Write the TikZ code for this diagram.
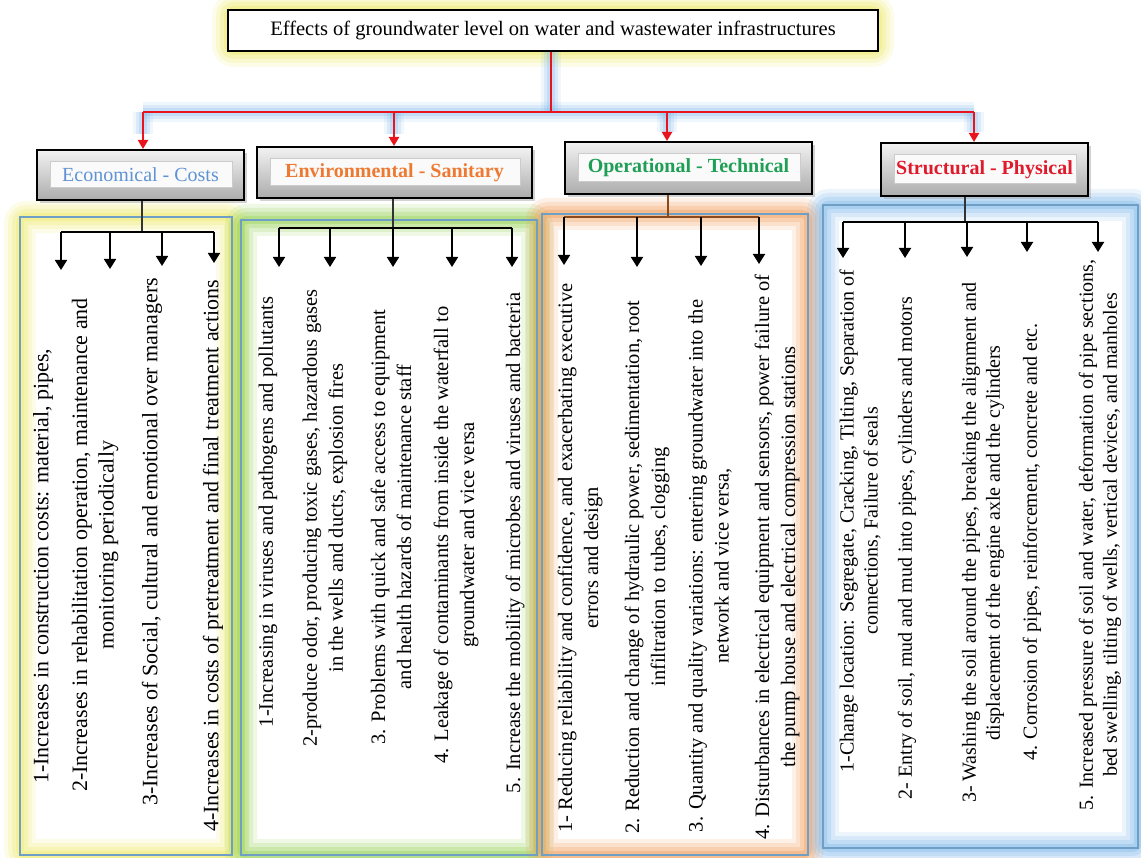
\documentclass[tikz,border=0pt]{standalone}
\usepackage{fontspec}
\setmainfont{Liberation Serif}
\usetikzlibrary{arrows.meta,shadows}
\definecolor{glowY}{HTML}{F0EA60}
\definecolor{glowG}{HTML}{8FCF4A}
\definecolor{glowO}{HTML}{F29A55}
\definecolor{glowB}{HTML}{7DB7EC}
\definecolor{panelLine}{HTML}{6F9FC4}
\definecolor{econC}{HTML}{5F93D3}
\definecolor{envC}{HTML}{EE7A32}
\definecolor{opC}{HTML}{1E9F55}
\definecolor{strC}{HTML}{E0192B}
\definecolor{redL}{HTML}{E8141E}
\definecolor{brownL}{HTML}{8A4A1E}
\newcommand\softglow[3]{%
  \foreach \w/\o in {32/0.14,24/0.18,16/0.24,8/0.34}{%
    \draw[#1,line width=\w pt,opacity=\o,rounded corners=6pt] #2 rectangle #3;}}
\begin{document}
\begin{tikzpicture}[x=1pt,y=-1pt,
  body/.style={rotate=90,inner sep=0pt,align=center},
  econtxt/.style={body,anchor=west,font=\fontsize{22}{26.5}\selectfont},
  envtxt/.style={body,anchor=center,font=\fontsize{20.5}{26}\selectfont},
  optxt/.style={body,anchor=center,font=\fontsize{20.5}{26}\selectfont},
  strtxt/.style={body,anchor=center,font=\fontsize{20}{24}\selectfont},
  catbox/.style={draw=black,line width=2pt,top color=gray!10,bottom color=gray!65,inner sep=0pt,
     drop shadow={shadow xshift=3pt,shadow yshift=-3pt,fill=gray!70,opacity=0.5},
     path picture={\draw[gray!40,line width=0.8pt,fill=white!96!gray]
        ([xshift=13pt,yshift=-11pt]path picture bounding box.north west) rectangle
        ([xshift=-12pt,yshift=13pt]path picture bounding box.south east);},
     font=\fontsize{20}{24}\selectfont},
  catbold/.style={font=\bfseries\fontsize{20}{24}\selectfont},
  redline/.style={redL,line width=2pt},
  redarrow/.style={redL,line width=2pt,-{Triangle[length=9pt,width=10pt]}},
  dnarrow/.style={black,line width=1.8pt,-{Triangle[length=10pt,width=12pt]}},
  branch/.style={black,line width=1.6pt},
  stem/.style={black!80,line width=1.2pt},
  panel/.style={panelLine,line width=1.4pt}
]
\useasboundingbox (0,0) rectangle (1141,858);
\fill[white] (0,0) rectangle (1141,858);

% glows
\softglow{glowY}{(228,10)}{(878,51)}
\softglow{glowY}{(20,217)}{(232,855)}
\softglow{glowG}{(241,220)}{(537,855)}
\softglow{glowO}{(542,214)}{(808,855)}
\softglow{glowB}{(823,205)}{(1138,848)}

% title
\node[draw=black,line width=1.5pt,fill=white,minimum width=650pt,minimum height=41pt,inner sep=0pt,
      font=\fontsize{20.5}{24}\selectfont] (title) at (553,30.5)
  {Effects of groundwater level on water and wastewater infrastructures};

% hub coordinates
\coordinate (hub) at (551,112);
\coordinate (dE) at (143,112);
\coordinate (dV) at (394,112);
\coordinate (dO) at (667,112);
\coordinate (dS) at (974,112);

% blue glow under red connectors
\foreach \w/\o in {20/0.12,14/0.18,8/0.25}{%
  \draw[glowB,line width=\w pt,opacity=\o] (title.south -| hub) -- (hub);
  \draw[glowB,line width=\w pt,opacity=\o] (dE) -- (dS);
  \draw[glowB,line width=\w pt,opacity=\o] (dE) -- ++(0,22);
  \draw[glowB,line width=\w pt,opacity=\o] (dV) -- ++(0,22);
  \draw[glowB,line width=\w pt,opacity=\o] (dO) -- ++(0,20);
  \draw[glowB,line width=\w pt,opacity=\o] (dS) -- ++(0,20);
}

% panels
\draw[panel] (20,217) rectangle (232,855);
\draw[panel] (241,220) rectangle (537,855);
\draw[panel] (542,214) rectangle (808,855);
\draw[panel] (823,205) rectangle (1138,848);

% category boxes
\node[catbox,minimum width=207pt,minimum height=50pt,text=econC] (econ) at (140.5,175) {Economical - Costs};
\node[catbox,catbold,minimum width=275pt,minimum height=51pt,text=envC] (env) at (394.5,172.5) {Environmental - Sanitary};
\node[catbox,catbold,minimum width=247pt,minimum height=52pt,text=opC] (op) at (688.5,168) {Operational - Technical};
\node[catbox,catbold,minimum width=207pt,minimum height=53pt,text=strC] (str) at (984.5,169.5) {Structural - Physical};

% red connectors
\draw[redline] (title.south -| hub) -- (hub);
\draw[redline] (dE) -- (dS);
\draw[redarrow] (dE) -- (dE |- econ.north);
\draw[redarrow] (dV) -- (dV |- env.north);
\draw[redarrow] (dO) -- (dO |- op.north);
\draw[redarrow] (dS) -- (dS |- str.north);

% economical branch
\coordinate (bE) at (142,232);
\draw[stem] (bE |- econ.south) -- (bE);
\draw[branch] (61,232) -- (214,232);
\foreach \n/\x/\t in {1/61/270,2/110/269,3/162/266,4/214/263}{%
  \coordinate (tE\n) at (\x,\t);
  \draw[dnarrow] (tE\n |- bE) -- (tE\n);}

% environmental branch
\coordinate (bV) at (393,228);
\draw[stem] (bV |- env.south) -- (bV);
\draw[branch] (279,228) -- (512,228);
\foreach \n/\x/\t in {1/279/267,2/330/267,3/393/267,4/452/267,5/512/267}{%
  \coordinate (tV\n) at (\x,\t);
  \draw[dnarrow] (tV\n |- bV) -- (tV\n);}

% operational branch
\coordinate (bO) at (668,217);
\draw[stem,brownL] (bO |- op.south) -- (bO);
\draw[branch,brownL] (564,217) -- (759,217);
\foreach \n/\x/\t in {1/564/265,2/637/267,3/701/266,4/759/264}{%
  \coordinate (tO\n) at (\x,\t);
  \draw[dnarrow] (tO\n |- bO) -- (tO\n);}

% structural branch
\coordinate (bS) at (965,222);
\draw[stem] (bS |- str.south) -- (bS);
\draw[branch] (843,222) -- (1098,222);
\foreach \n/\x/\t in {1/843/258,2/905/258,3/967/257,4/1027/252,5/1098/252}{%
  \coordinate (tS\n) at (\x,\t);
  \draw[dnarrow] (tS\n |- bS) -- (tS\n);}

% economical texts
\node[econtxt] (e1) at (43,784) {1-Increases in construction costs: material, pipes,};
\node[econtxt] (e2) at (95,792) {2-Increases in rehabilitation operation, maintenance and\\monitoring periodically};
\node[econtxt] (e3) at (152,806) {3-Increases of Social, cultural and emotional over managers};
\node[econtxt] (e4) at (213,832) {4-Increases in costs of pretreatment and final treatment actions};

% environmental texts
\node[envtxt] (v1) at (268,512) {1-Increasing in viruses and pathogens and pollutants};
\node[envtxt] (v2) at (325,518) {2-produce odor, producing toxic gases, hazardous gases\\in the wells and ducts, explosion fires};
\node[envtxt] (v3) at (391,527) {3. Problems with quick and safe access to equipment\\and health hazards of maintenance staff};
\node[envtxt] (v4) at (456,535) {4. Leakage of contaminants from inside the waterfall to\\groundwater and vice versa};
\node[envtxt] (v5) at (515,543) {5. Increase the mobility of microbes and viruses and bacteria};

% operational texts
\node[optxt] (o1) at (580,558) {1- Reducing reliability and confidence, and exacerbating executive\\errors and design};
\node[optxt] (o2) at (647,567) {2. Reduction and change of hydraulic power, sedimentation, root\\infiltration to tubes, clogging};
\node[optxt] (o3) at (710,566) {3. Quantity and quality variations: entering groundwater into the\\network and vice versa,};
\node[optxt] (o4) at (777,557) {4. Disturbances in electrical equipment and sensors, power failure of\\the pump house and electrical compression stations};

% structural texts
\node[strtxt] (s1) at (860,521) {1-Change location: Segregate, Cracking, Tilting, Separation of\\connections, Failure of seals};
\node[strtxt] (s2) at (907,548) {2- Entry of soil, mud and mud into pipes, cylinders and motors};
\node[strtxt] (s3) at (983,543) {3- Washing the soil around the pipes, breaking the alignment and\\displacement of the engine axle and the cylinders};
\node[strtxt] (s4) at (1032,542) {4. Corrosion of pipes, reinforcement, concrete and etc.};
\node[strtxt] (s5) at (1100,535) {5. Increased pressure of soil and water, deformation of pipe sections,\\bed swelling, tilting of wells, vertical devices, and manholes};
\end{tikzpicture}
\end{document}
